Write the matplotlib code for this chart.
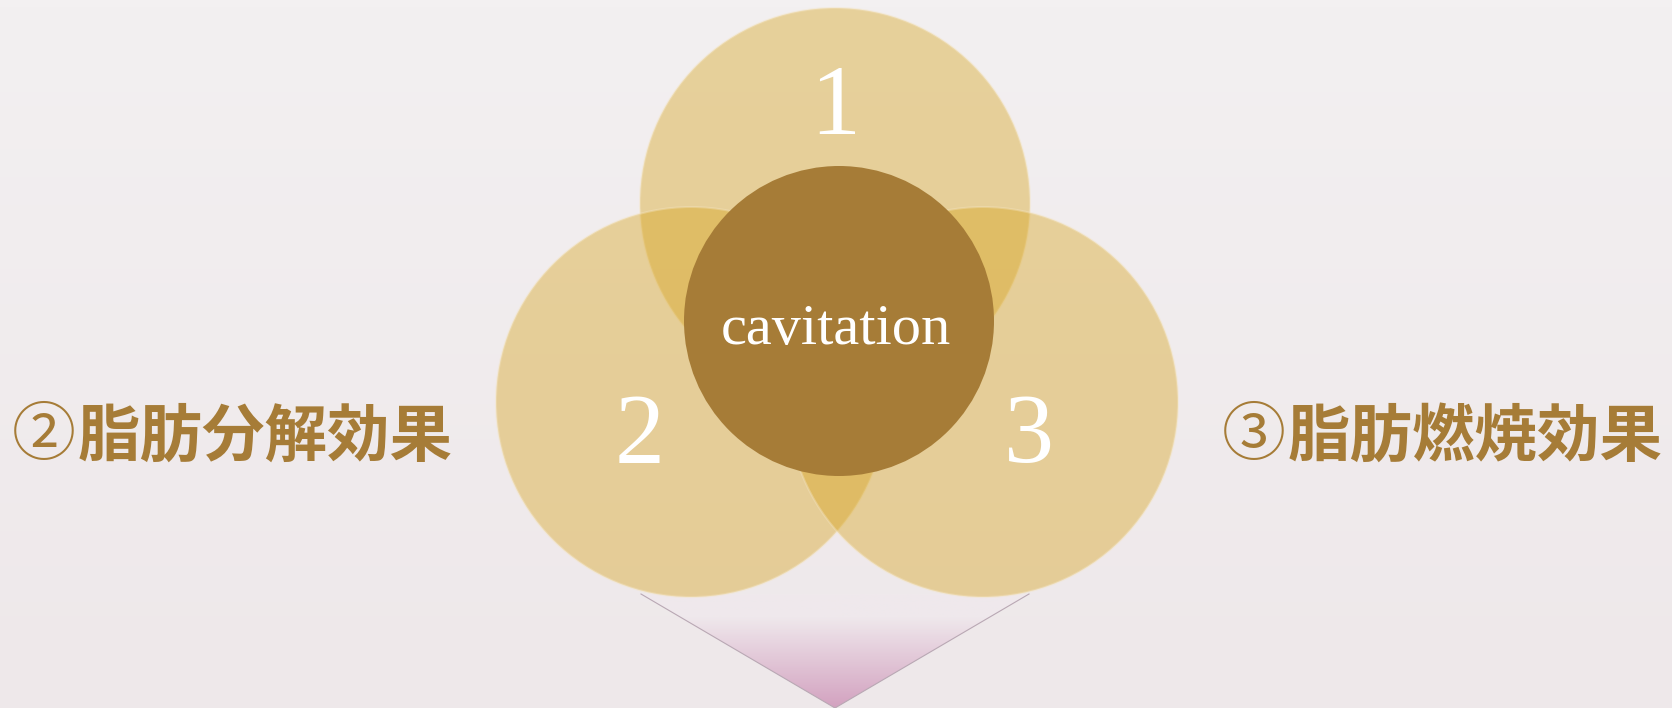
import numpy as np
import matplotlib
matplotlib.use('Agg')
import matplotlib.pyplot as plt
from matplotlib.patches import Circle, Polygon
from matplotlib.colors import LinearSegmentedColormap

# labels of the diagram
numbers = ['1', '2', '3']
center_label = 'cavitation'
side_marks = ['②', '③']
side_labels = ['脂肪分解効果', '脂肪燃焼効果']

W, H = 1672, 708
gold = '#a67c37'
petal = '#d6a21a'
cjk = ['Noto Sans CJK JP', 'DejaVu Sans']

fig = plt.figure(figsize=(W / 100, H / 100), dpi=100)
ax = fig.add_axes([0, 0, 1, 1])
ax.set_xlim(0, W)
ax.set_ylim(H, 0)
ax.axis('off')

# background, very light vertical gradient
bg = LinearSegmentedColormap.from_list('bg', ['#f3f0f1', '#eee8ea'])
ax.imshow(np.linspace(0, 1, 100).reshape(-1, 1), cmap=bg, aspect='auto',
          extent=(0, W, H, 0), zorder=0)

# pink arrow below the circles
tri = Polygon([(641, 594), (835, 708), (1029, 594)], closed=True,
              facecolor='none', edgecolor='none', zorder=1)
ax.add_patch(tri)
pink = LinearSegmentedColormap.from_list(
    'pk', [(0, '#efe9ec'), (0.2, '#efe8ec'), (1, '#d3a2c0')])
im = ax.imshow(np.linspace(0, 1, 100).reshape(-1, 1), cmap=pink, aspect='auto',
               extent=(641, 1029, 708, 594), zorder=1)
im.set_clip_path(tri)
ax.plot([641, 835, 1029], [594, 708, 594], color='#b9a8b4', lw=0.8, zorder=1)

# three petals
centers = [(835, 203), (691, 402), (983, 402)]
for (cx, cy) in centers:
    ax.add_patch(Circle((cx, cy), 195, facecolor=petal, alpha=0.4,
                        edgecolor='#f4e4c0', lw=1.5, zorder=2))

ax.add_patch(Circle((839, 321), 155, facecolor=gold, edgecolor='none', zorder=3))

num_pos = [(835, 110), (640, 438), (1029, 438)]
for (x, y), n in zip(num_pos, numbers):
    ax.text(x, y, n, color='white', fontsize=72, family='Liberation Serif',
            ha='center', va='center', zorder=4)

ax.text(836, 330, center_label, color='white', fontsize=42,
        family='Liberation Serif', ha='center', va='center', zorder=4)

# side captions: circled number + text
mark_x = [44, 1254]
text_x = [78, 1288]
for mx, tx, m, s in zip(mark_x, text_x, side_marks, side_labels):
    ax.text(mx, 437, m, color=gold, fontsize=46, family=cjk,
            ha='center', va='center', zorder=4)
    ax.text(tx, 437, s, color=gold, fontsize=45, fontweight='bold',
            family=cjk, ha='left', va='center', zorder=4)

fig.savefig('out.png', dpi=100)
